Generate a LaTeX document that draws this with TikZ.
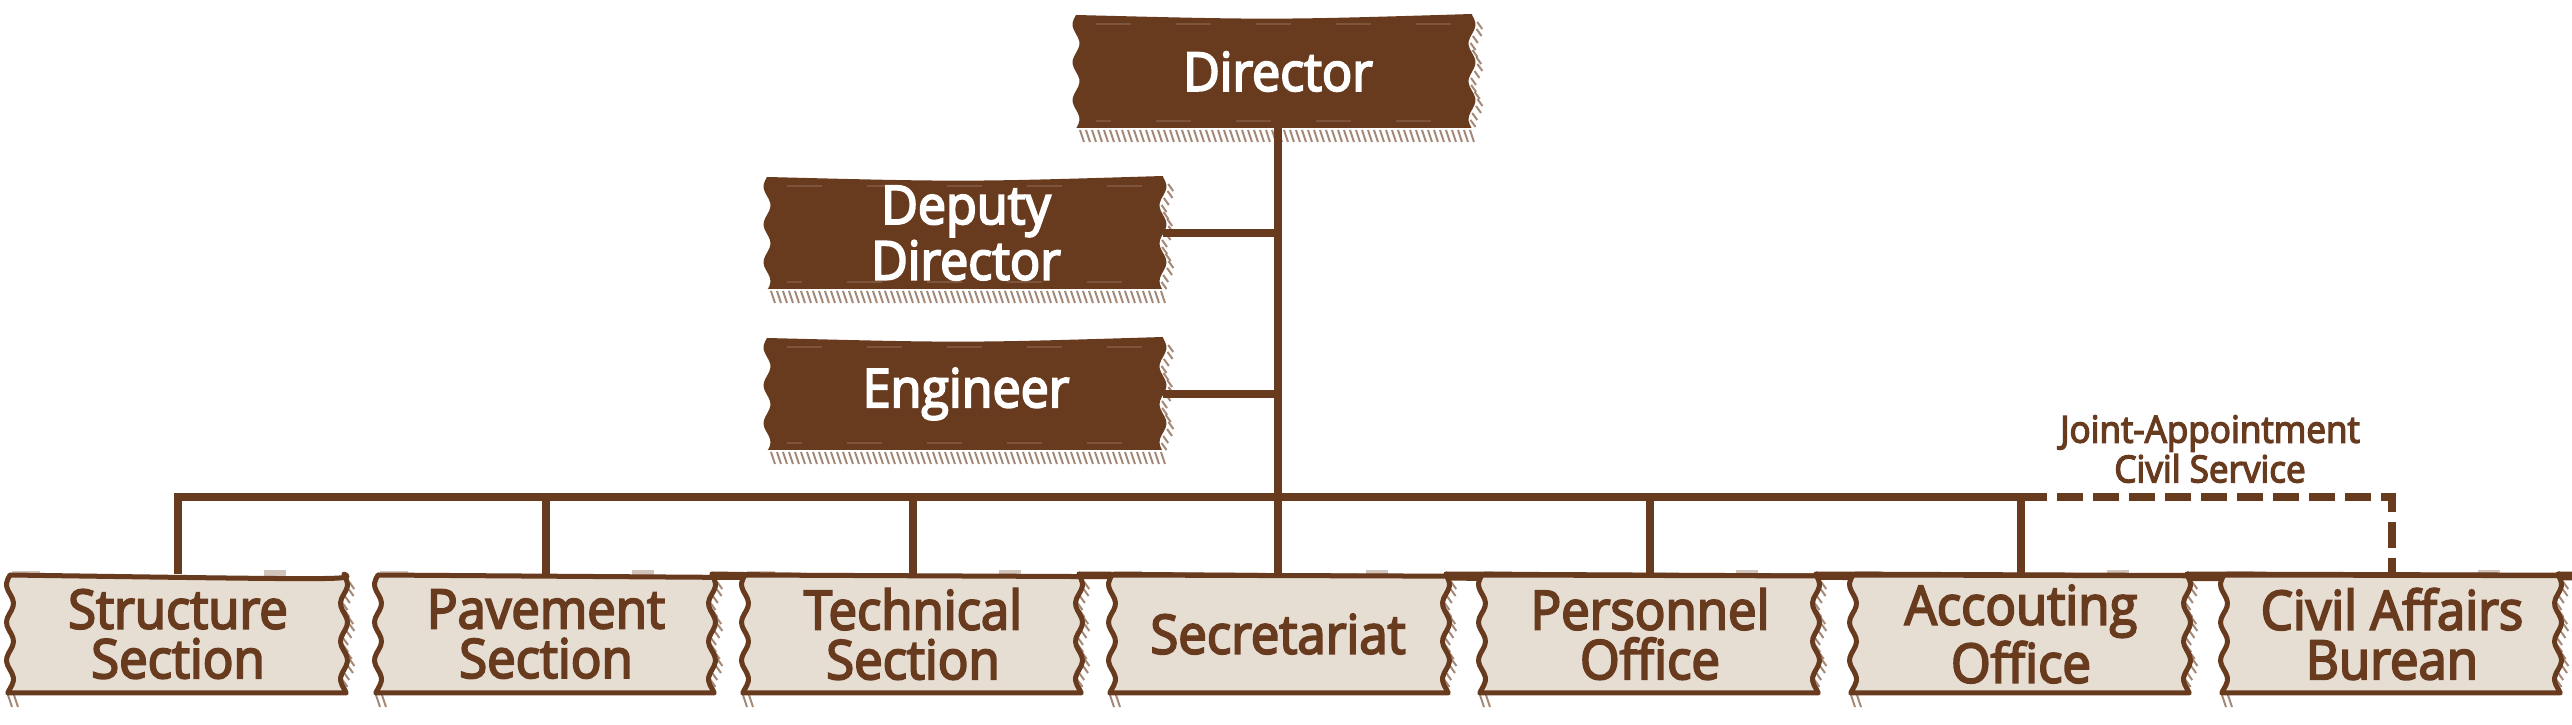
\documentclass[tikz,border=0pt]{standalone}
\usepackage{fontspec}
\setmainfont{Open Sans}[FakeStretch=0.94, BoldFont={Open Sans}, BoldFeatures={FakeBold=3.6}]
\definecolor{brn}{RGB}{104,58,30}
\definecolor{beige}{RGB}{230,222,211}
\newcommand\tape[5]{%
  \pgfmathtruncatemacro\nb{(#3-#1)/6-1}%
  \foreach \k in {0,...,\nb}{\draw[hatch] ({#1+4+6*\k},{#4+2}) -- ++(4,12);}%
  \pgfmathtruncatemacro\nr{(#4-#2)/7-1}%
  \foreach \k in {1,...,\nr}{\draw[hatch] ({#3+2+3.5*sin(7*\k*9.5)},{#2+7*\k}) -- ++(5,7);}%
  \path[#5] (#1,#2) .. controls ({#1*0.5+#3*0.5},{#2+5}) .. (#3,{#2-1})
    -- plot[domain=0:1,samples=31] ({#3+3.5*sin(\x*(#4-#2)*9.5)},{#2+\x*(#4-#2)})
    -- (#1,#4)
    -- plot[domain=0:1,samples=31] ({#1-3.5*sin((1-\x)*(#4-#2)*9.5)},{#4-\x*(#4-#2)})
    -- cycle;
}
\newcommand\darktape[4]{%
  \tape{#1}{#2}{#3}{#4}{fill=brn}%
  \draw[streak] ({#1+20},{#2+9}) -- ({#3-20},{#2+9});
  \draw[streak,dash phase=0.2cm] ({#1+20},{#4-7}) -- ({#3-20},{#4-7});
}
\newcommand\lighttape[4]{%
  \fill[brn,opacity=0.3] ({#1+2},{#2-4}) rectangle ({#1+30},{#2+1});
  \fill[brn,opacity=0.3] ({#3-80},{#2-5}) rectangle ({#3-58},{#2+1});
  \tape{#1}{#2}{#3}{#4}{fill=beige,draw=brn,line width=0.05cm,line join=round}%
}
\begin{document}
\begin{tikzpicture}[x=0.01cm,y=-0.01cm,
  hatch/.style={draw=brn,line width=0.02cm,opacity=0.6},
  streak/.style={draw=white,opacity=0.14,line width=0.025cm,dash pattern=on 0.35cm off 0.45cm},
  conn/.style={draw=brn,line width=0.075cm},
  dashconn/.style={conn,dash pattern=on 0.26cm off 0.10cm},
  toplbl/.style={text=white,font=\bfseries\fontsize{15.2pt}{14.2pt}\selectfont,align=center,inner sep=0pt,minimum width=3.96cm,minimum height=1.12cm},
  botlbl/.style={text=brn,font=\bfseries\fontsize{15.4pt}{14.1pt}\selectfont,align=center,inner sep=0pt,minimum width=3.3cm,minimum height=1.18cm},
  smalllbl/.style={text=brn,font=\bfseries\fontsize{10.6pt}{11.3pt}\selectfont,align=center,inner sep=0pt}]
\useasboundingbox (0,0) rectangle (2572,725);
% top boxes
\darktape{1076}{15}{1472}{128}
\darktape{767}{177}{1163}{289}
\darktape{767}{338}{1163}{450}
% bottom boxes
\foreach \c in {178,546,913,1280,1650,2021,2392}{\lighttape{\c-168}{575}{\c+166}{693}}
% labels
\node[toplbl] (dir) at (1278,71.5) {Director};
\node[toplbl] (dep) at (966,233) {Deputy\\Director};
\node[toplbl] (eng) at (966,394) {Engineer};
\node[botlbl] (st) at (178,634) {Structure\\Section};
\node[botlbl] (pa) at (546,634) {Pavement\\Section};
\node[botlbl] (te) at (913,634) {Technical\\Section};
\node[botlbl] (se) at (1278,634) {Secretariat};
\node[botlbl] (pe) at (1650,634) {Personnel\\Office};
\node[botlbl] (ac) at (2021,634) {Accouting\\Office};
\node[botlbl] (ci) at (2392,634) {Civil Affairs\\Burean};
\node[smalllbl] (jacs) at (2210,449) {Joint-Appointment\\Civil Service};
\coordinate (bus) at (0,497);
% connectors
\draw[conn] (dir.south) -- (se.north);
\draw[conn] ([xshift=-0.02cm]dep.east) -- (dep.east -| dir.south);
\draw[conn] ([xshift=-0.02cm]eng.east) -- (eng.east -| dir.south);
\draw[conn] (st.north) -- (st.north |- bus) -- (ac.north |- bus) -- (ac.north);
\foreach \n in {pa,te,pe}{\draw[conn] (\n.north) -- (\n.north |- bus);}
\draw[dashconn] (ac.north |- bus) -- (ci.north |- bus) -- (ci.north);
\end{tikzpicture}
\end{document}
